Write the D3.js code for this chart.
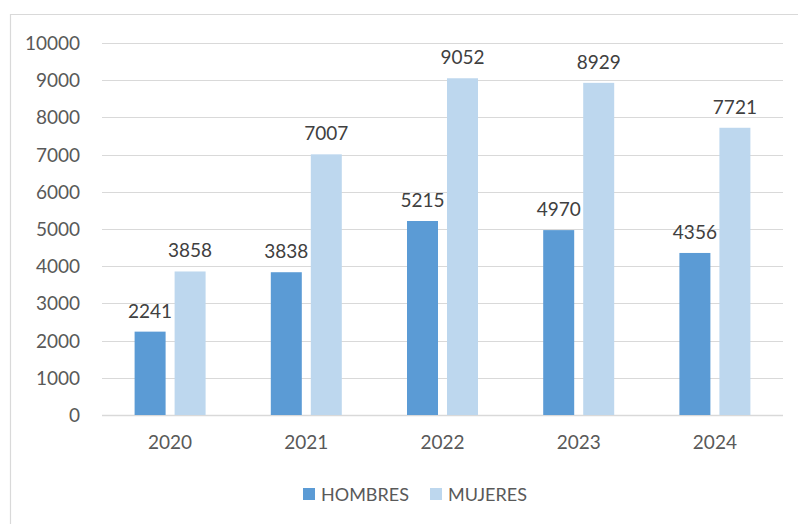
<!DOCTYPE html>
<html>
<head>
<meta charset="utf-8">
<script src="https://cdn.jsdelivr.net/npm/d3@7"></script>
<style>
  html, body { margin: 0; padding: 0; background: #fff; overflow: hidden; }
  svg { display: block; font-family: Lato, "Open Sans", sans-serif; }
  .tick-text { fill: #595959; font-size: 19px; }
  .value-label { fill: #404040; font-size: 19px; }
  .legend-text { fill: #595959; font-size: 18px; }
</style>
</head>
<body>
<svg id="chart"></svg>
<script>
// ── DATA ──────────────────────────────────────────────
const years = ["2020", "2021", "2022", "2023", "2024"];
const hombres = [2241, 3838, 5215, 4970, 4356];
const mujeres = [3858, 7007, 9052, 8929, 7721];
const seriesNames = ["HOMBRES", "MUJERES"];
const seriesColors = ["#5B9BD5", "#BDD7EE"];
const yTicks = [0, 1000, 2000, 3000, 4000, 5000, 6000, 7000, 8000, 9000, 10000];

const width = 798, height = 524;
const margin = { top: 43, right: 15, bottom: 109, left: 102 };
const innerWidth = width - margin.left - margin.right;
const innerHeight = height - margin.top - margin.bottom;

const svg = d3.select("#chart")
  .attr("width", width)
  .attr("height", height)
  .attr("viewBox", `0 0 ${width} ${height}`);

// outer frame (only top + left edges fall inside the picture)
svg.append("line")
  .attr("x1", 10.5).attr("x2", 10.5).attr("y1", 14).attr("y2", height)
  .attr("stroke", "#d9d9d9").attr("stroke-width", 1.2);
svg.append("line")
  .attr("x1", 10).attr("x2", width).attr("y1", 14.5).attr("y2", 14.5)
  .attr("stroke", "#d9d9d9").attr("stroke-width", 1.2);

const group = svg.append("g").attr("transform", `translate(${margin.left},${margin.top})`);

// scales
const xScale = d3.scaleBand().domain(years).range([0, innerWidth]).padding(0);
const inner = d3.scalePoint().domain(seriesNames).range([-20, 20]);
const yScale = d3.scaleLinear().domain([0, 10000]).range([innerHeight, 0]);
const barWidth = 31;

// grid lines
group.append("g")
  .selectAll("line")
  .data(yTicks)
  .join("line")
  .attr("x1", 0)
  .attr("x2", innerWidth)
  .attr("y1", (d) => Math.round(yScale(d)) + 0.5)
  .attr("y2", (d) => Math.round(yScale(d)) + 0.5)
  .attr("stroke", "#d9d9d9")
  .attr("stroke-width", (d) => (d === 0 ? 1.5 : 1.2));

// y axis labels
group.append("g")
  .selectAll("text")
  .data(yTicks)
  .join("text")
  .attr("class", "tick-text")
  .attr("x", -22)
  .attr("y", (d) => yScale(d) + 7)
  .attr("text-anchor", "end")
  .text((d) => d3.format("d")(d));

// x axis labels
group.append("g")
  .selectAll("text")
  .data(years)
  .join("text")
  .attr("class", "tick-text")
  .attr("x", (d) => xScale(d) + xScale.bandwidth() / 2)
  .attr("y", innerHeight + 34)
  .attr("text-anchor", "middle")
  .text((d) => d);

// bars
const series = [hombres, mujeres];
series.forEach((values, si) => {
  group.append("g")
    .selectAll("rect")
    .data(values)
    .join("rect")
    .attr("x", (d, i) => xScale(years[i]) + xScale.bandwidth() / 2 + inner(seriesNames[si]) - barWidth / 2)
    .attr("y", (d) => yScale(d))
    .attr("width", barWidth)
    .attr("height", (d) => innerHeight - yScale(d))
    .attr("fill", seriesColors[si]);
});

// data labels, drawn above everything
series.forEach((values, si) => {
  group.append("g")
    .selectAll("text")
    .data(values)
    .join("text")
    .attr("class", "value-label")
    .attr("x", (d, i) => xScale(years[i]) + xScale.bandwidth() / 2 + inner(seriesNames[si]))
    .attr("y", (d) => yScale(d) - 14)
    .attr("text-anchor", "middle")
    .text((d) => d);
});

// legend
const legend = svg.append("g").attr("transform", "translate(303,488)");
const legendX = [0, 127];
seriesNames.forEach((name, i) => {
  legend.append("rect")
    .attr("x", legendX[i])
    .attr("y", 0)
    .attr("width", 12)
    .attr("height", 12)
    .attr("fill", seriesColors[i]);
  legend.append("text")
    .attr("class", "legend-text")
    .attr("x", legendX[i] + 18)
    .attr("y", 12.5)
    .text(name);
});
</script>
</body>
</html>
